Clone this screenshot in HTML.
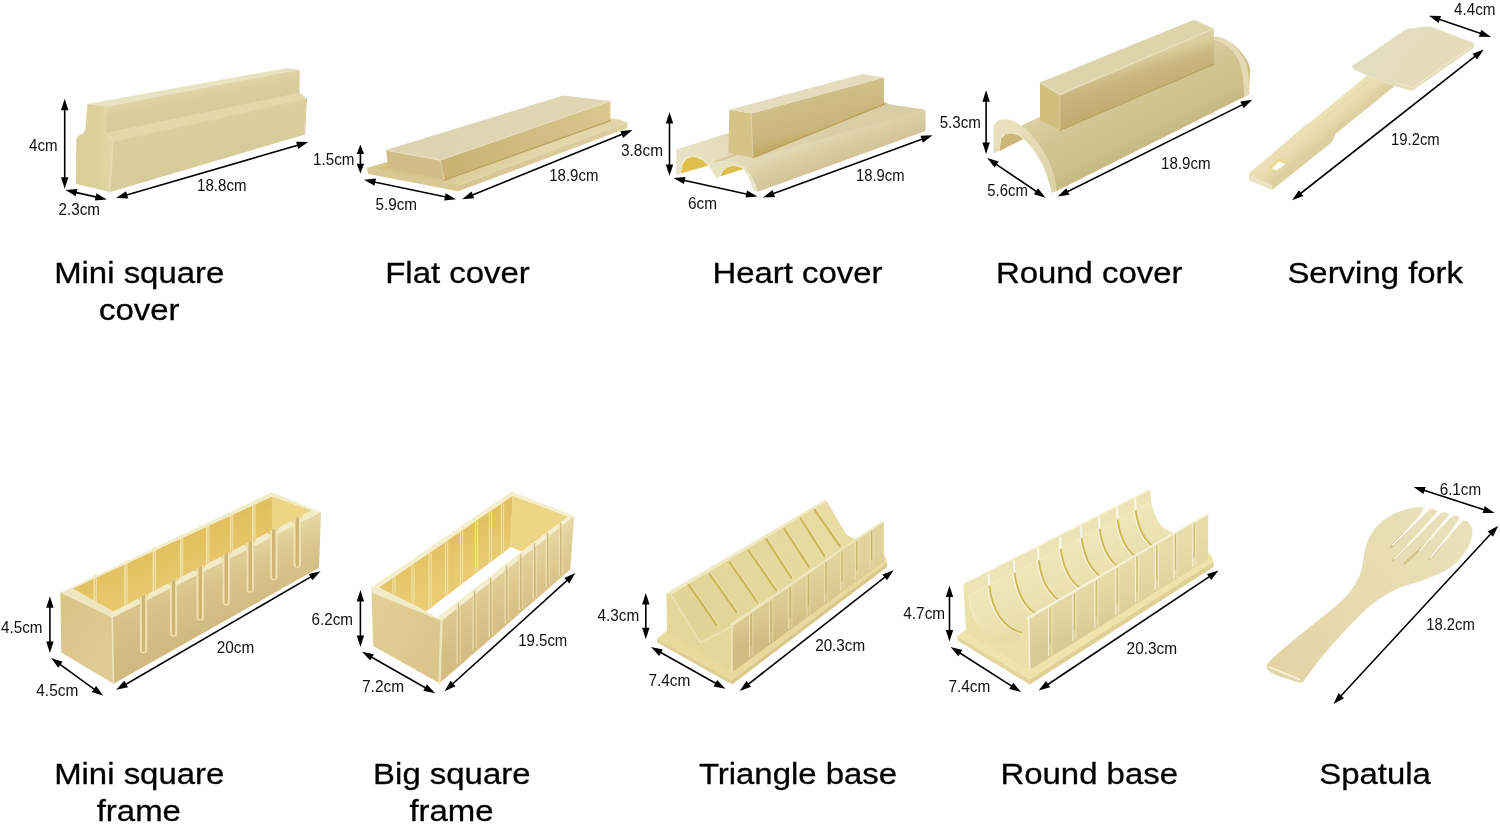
<!DOCTYPE html>
<html><head><meta charset="utf-8"><title>Sushi maker set</title>
<style>html,body{margin:0;padding:0;background:#fff}svg{display:block;will-change:transform}text{font-family:"Liberation Sans",sans-serif}</style></head>
<body>
<svg width="1500" height="824" viewBox="0 0 1500 824">
<defs>
<linearGradient id="g1" gradientUnits="userSpaceOnUse" x1="200" y1="110" x2="214" y2="175"><stop offset="0" stop-color="#e5dbae"/><stop offset="0.22" stop-color="#dbce9e"/><stop offset="1" stop-color="#d7ca99"/></linearGradient>
<linearGradient id="g2" gradientUnits="userSpaceOnUse" x1="200" y1="86" x2="205" y2="112"><stop offset="0" stop-color="#e3d8aa"/><stop offset="0.4" stop-color="#dbce9e"/><stop offset="1" stop-color="#d8cb9a"/></linearGradient>
<linearGradient id="g3" gradientUnits="userSpaceOnUse" x1="76" y1="150" x2="112" y2="150"><stop offset="0" stop-color="#d9cd98"/><stop offset="0.6" stop-color="#dcd09c"/><stop offset="1" stop-color="#e2d7a8"/></linearGradient>
<linearGradient id="g4" gradientUnits="userSpaceOnUse" x1="470" y1="150" x2="490" y2="182"><stop offset="0" stop-color="#d6c38a"/><stop offset="0.45" stop-color="#ddcd9c"/><stop offset="1" stop-color="#e3d6aa"/></linearGradient>
<linearGradient id="g5" gradientUnits="userSpaceOnUse" x1="458" y1="190" x2="627" y2="127"><stop offset="0" stop-color="#d5c592"/><stop offset="1" stop-color="#dccfa0"/></linearGradient>
<linearGradient id="g6" gradientUnits="userSpaceOnUse" x1="440" y1="170" x2="610" y2="110"><stop offset="0" stop-color="#c8b172"/><stop offset="0.5" stop-color="#d0bb80"/><stop offset="1" stop-color="#dac890"/></linearGradient>
<linearGradient id="g7" gradientUnits="userSpaceOnUse" x1="390" y1="150" x2="610" y2="100"><stop offset="0" stop-color="#ddd3b0"/><stop offset="1" stop-color="#e2d7b4"/></linearGradient>
<linearGradient id="g8" gradientUnits="userSpaceOnUse" x1="690" y1="160" x2="830" y2="120"><stop offset="0" stop-color="#e8e2c4"/><stop offset="0.5" stop-color="#e0d6b2"/><stop offset="1" stop-color="#dacea6"/></linearGradient>
<linearGradient id="g9" gradientUnits="userSpaceOnUse" x1="830" y1="135" x2="842" y2="168"><stop offset="0" stop-color="#e2d8b4"/><stop offset="0.3" stop-color="#dbcfa6"/><stop offset="1" stop-color="#cfc092"/></linearGradient>
<linearGradient id="g10" gradientUnits="userSpaceOnUse" x1="810" y1="95" x2="820" y2="135"><stop offset="0" stop-color="#d0be88"/><stop offset="0.8" stop-color="#c9b67c"/><stop offset="1" stop-color="#c2ac68"/></linearGradient>
<linearGradient id="g11" gradientUnits="userSpaceOnUse" x1="1120" y1="70" x2="1160" y2="150"><stop offset="0" stop-color="#ddd2a6"/><stop offset="0.35" stop-color="#d3c696"/><stop offset="0.75" stop-color="#ccbf8a"/><stop offset="1" stop-color="#c4b67e"/></linearGradient>
<linearGradient id="g12" gradientUnits="userSpaceOnUse" x1="1000" y1="125" x2="1056" y2="190"><stop offset="0" stop-color="#e9e1be"/><stop offset="1" stop-color="#ddd2a6"/></linearGradient>
<linearGradient id="g13" gradientUnits="userSpaceOnUse" x1="1130" y1="60" x2="1142" y2="100"><stop offset="0" stop-color="#dccfa0"/><stop offset="0.38" stop-color="#cab680"/><stop offset="1" stop-color="#c2ac70"/></linearGradient>
<linearGradient id="g14" gradientUnits="userSpaceOnUse" x1="1290" y1="140" x2="1303" y2="156"><stop offset="0" stop-color="#ebe0b6"/><stop offset="0.6" stop-color="#e7dbae"/><stop offset="1" stop-color="#ddd0a0"/></linearGradient>
<linearGradient id="g15" gradientUnits="userSpaceOnUse" x1="1380" y1="40" x2="1440" y2="85"><stop offset="0" stop-color="#e3ddc0"/><stop offset="1" stop-color="#e4dcb8"/></linearGradient>
<linearGradient id="g16" gradientUnits="userSpaceOnUse" x1="120" y1="560" x2="135" y2="600"><stop offset="0" stop-color="#e2bf5e"/><stop offset="1" stop-color="#e8c96e"/></linearGradient>
<linearGradient id="g17" gradientUnits="userSpaceOnUse" x1="60" y1="620" x2="113" y2="650"><stop offset="0" stop-color="#dac488"/><stop offset="1" stop-color="#dfcc94"/></linearGradient>
<linearGradient id="g18" gradientUnits="userSpaceOnUse" x1="200" y1="560" x2="222" y2="625"><stop offset="0" stop-color="#e4d49e"/><stop offset="0.4" stop-color="#d8c48c"/><stop offset="1" stop-color="#d0ba80"/></linearGradient>
<linearGradient id="g19" gradientUnits="userSpaceOnUse" x1="430" y1="540" x2="450" y2="580"><stop offset="0" stop-color="#e2bf60"/><stop offset="1" stop-color="#e9cb72"/></linearGradient>
<linearGradient id="g20" gradientUnits="userSpaceOnUse" x1="372" y1="610" x2="440" y2="650"><stop offset="0" stop-color="#e2ce94"/><stop offset="1" stop-color="#dbc58a"/></linearGradient>
<linearGradient id="g21" gradientUnits="userSpaceOnUse" x1="490" y1="560" x2="520" y2="625"><stop offset="0" stop-color="#e6d6a2"/><stop offset="0.5" stop-color="#dcc78e"/><stop offset="1" stop-color="#d4bd82"/></linearGradient>
<linearGradient id="g22" gradientUnits="userSpaceOnUse" x1="690" y1="620" x2="840" y2="520"><stop offset="0" stop-color="#e2d496"/><stop offset="1" stop-color="#e8dca4"/></linearGradient>
<linearGradient id="g23" gradientUnits="userSpaceOnUse" x1="800" y1="575" x2="815" y2="625"><stop offset="0" stop-color="#e2d29c"/><stop offset="0.6" stop-color="#d9c78e"/><stop offset="1" stop-color="#d0bc80"/></linearGradient>
<linearGradient id="g24" gradientUnits="userSpaceOnUse" x1="1060" y1="545" x2="1095" y2="610"><stop offset="0" stop-color="#efe6ba"/><stop offset="0.5" stop-color="#ece2b2"/><stop offset="1" stop-color="#e4d8a2"/></linearGradient>
<linearGradient id="g25" gradientUnits="userSpaceOnUse" x1="1100" y1="570" x2="1118" y2="625"><stop offset="0" stop-color="#e8dcaa"/><stop offset="0.6" stop-color="#e1d3a0"/><stop offset="1" stop-color="#d9ca94"/></linearGradient>
<linearGradient id="g26" gradientUnits="userSpaceOnUse" x1="1450" y1="520" x2="1280" y2="670"><stop offset="0" stop-color="#e9e0ba"/><stop offset="0.45" stop-color="#e7dbb0"/><stop offset="1" stop-color="#e2d4a6"/></linearGradient>
</defs>
<rect width="1500" height="824" fill="#fff"/>
<polygon points="112.8,141 306.2,98 304.2,134.8 110.1,192.1" fill="url(#g1)"/>
<polygon points="105.4,132.5 298.2,92.5 306.2,98.5 112.8,141.5" fill="#e3d8aa"/>
<polygon points="105.4,106.5 298.2,69.5 298.2,93 105.4,133" fill="url(#g2)"/>
<polygon points="87.4,104.1 286,68.2 298.2,69.5 105.4,106.8" fill="#e9e2c0"/>
<polygon points="298.2,69.5 299.5,71 299.5,93 307,98.5 305,135 304.2,134.8 306.2,98 298.2,93" fill="#cfc290"/>
<path d="M87.4,104.1 L105.4,106.5 L105.4,132.8 L112.8,141 L110.1,192.1 L76,184 L76.3,140 Q76.5,136.5 80,135 Q85,133 85.4,128 Z" fill="url(#g3)"/>
<path d="M105.4,106.5 L105.4,132.8 L112.8,141 L110.1,192.1" fill="none" stroke="#e6dcb2" stroke-width="1.2" stroke-linecap="round" stroke-linejoin="round"/>
<polygon points="367,168.1 458,185.5 627.4,122.5 619.4,119.5 560,110" fill="url(#g4)"/>
<polygon points="367,167.6 458,185 458.2,191.2 368,174.1" fill="#d8c894"/>
<polygon points="458,185.5 627.4,122.5 627.4,128.1 458.2,191.2" fill="url(#g5)"/>
<polygon points="386.1,150.1 440.1,160.1 444.1,179.8 388.1,168.1" fill="#cfbc86"/>
<polygon points="440.1,160.1 610.4,101 610.4,120.1 444.1,179.8" fill="url(#g6)"/>
<polygon points="386.1,150.1 563.3,95.6 610.4,101 440.1,160.1" fill="url(#g7)"/>
<path d="M386.1,150.1 L440.1,160.1 L610.4,101" fill="none" stroke="#e8dfbe" stroke-width="1.2" stroke-linecap="round" stroke-linejoin="round"/>
<path d="M440.1,160.1 L444.1,179.8" fill="none" stroke="#e2d6ac" stroke-width="1" stroke-linecap="round" stroke-linejoin="round"/>
<path d="M444.1,180.3 L610.4,120.6" fill="none" stroke="#b89c58" stroke-width="1.2" stroke-linecap="round" stroke-linejoin="round"/>
<polygon points="676.3,149.6 689.7,152 703.1,158.7 709.4,164.6 711,162.6 725.2,161 737,163.4 744.9,167.3 925.5,109.7 885.5,103.8 840,98" fill="url(#g8)"/>
<polygon points="709.4,164.6 716,160.5 884,101.5 889,104.2" fill="#d4c696"/>
<polygon points="737,163.4 744.9,167.3 750.4,174.4 755.2,183.9 757.5,191.8 925.5,131 925.5,109.7" fill="url(#g9)"/>
<path d="M680.3,173.4 C681,166 684,159.5 691.3,156.3 C697,155.5 704,159.5 708.8,165.6 Z" fill="#e0c04a"/>
<path d="M720.5,176.2 C721.5,170 726,165.8 733.1,165.4 C738,165.3 741.5,166.8 743.9,169.1 Z" fill="#e0c04a"/>
<polygon points="676.3,149.6 689.7,152 696,154.3 703.1,158.7 709.4,164.6 711,162.6 725.2,161 737,163.4 744.9,167.3 750.4,174.4 755.2,183.9 757.5,191.8 753.6,190.6 752,185.5 748.1,176 743.7,168.9 739.4,166.5 733.1,165.4 726.8,167.3 722,171.3 720.5,176 716.5,178 714.2,174.4 708.6,165.4 703.1,160.2 696.8,157.1 691.3,156.3 685.8,158.7 681.8,165 680.3,173.2 676.3,175.2" fill="#e8e2c4"/>
<path d="M680.3,173.2 L681.8,165 L685.8,158.7 L691.3,156.3 L696.8,157.1 L703.1,160.2 L708.6,165.4" fill="none" stroke="#f2eed8" stroke-width="0.8" stroke-linecap="round" stroke-linejoin="round"/>
<path d="M720.5,176 L722,171.3 L726.8,167.3 L733.1,165.4 L739.4,166.5 L743.7,168.9" fill="none" stroke="#f2eed8" stroke-width="0.8" stroke-linecap="round" stroke-linejoin="round"/>
<polygon points="729.4,109.8 751,113.5 753,157.5 728.4,153" fill="#d6c486"/>
<polygon points="751,113.5 883.9,77.6 883.9,103.8 753,157.5" fill="url(#g10)"/>
<polygon points="729.4,109.8 863,73.9 883.9,77.6 751,113.5" fill="#e4dcbc"/>
<path d="M751,113.5 L753,157.5" fill="none" stroke="#e0d3a4" stroke-width="1" stroke-linecap="round" stroke-linejoin="round"/>
<path d="M753,157.8 L883.9,104.1" fill="none" stroke="#b89c54" stroke-width="1.2" stroke-linecap="round" stroke-linejoin="round"/>
<path d="M1017,127.5 L1213,37 C1222,36 1232,42 1238,48.4 C1245,56 1249,62 1250.1,68.2 L1249,94.6 L1056.5,191.1 L1052,192.5 C1049,178 1044,166 1038,156 C1032,146 1025,138 1016,131 Z" fill="url(#g11)"/>
<path d="M1216,36.3 C1226,38 1236,46 1241,54 C1246,62 1249,68 1249.5,94 L1244,97 C1244,72 1240,62 1235,54 C1229,46 1221,41 1210,39 Z" fill="#e4dab4"/>
<path d="M999.4,151.3 L1001.1,138.4 L1005.8,133.8 L1012.7,133.3 L1019.6,136.1 L1023.5,139 Z" fill="#cbb878"/>
<path d="M993.6,153.4 L993.6,127 C994.5,122 998,120.3 1000,120 C1003,119.4 1005,119.3 1008.1,119.4 C1011,119.8 1014,121 1016.1,122.3 C1019,124 1022,126 1024.2,128.1 C1028,131 1031,134 1033.4,137.3 C1037,141.5 1040,145.5 1042.7,150 C1045.5,154.5 1047.8,158.5 1049.6,162.7 C1051.5,167 1053,171.5 1054.2,176.5 C1055.3,181 1056,185.5 1056.5,190.4 L1051.9,192.7 C1051.5,189.5 1050.8,186.5 1049.6,183.4 C1047.5,177 1045.5,171 1042.7,165 C1040,159.5 1037,154.5 1033.4,150 C1030.5,145.5 1027,141.5 1023.1,138.4 C1022,137.5 1021,136.8 1019.6,136.1 C1017.5,134.8 1015,133.6 1012.7,133.3 C1010,133.2 1008,133.3 1005.8,133.8 C1003.5,134.8 1002,136.2 1001.1,138.4 C1000.5,140 1000.5,141 1000.6,142 L999.4,151.1 Z" fill="url(#g12)"/>
<polygon points="1040,82.5 1059.8,94.6 1059.8,129.8 1040,120" fill="#d0be7e"/>
<polygon points="1059.8,94.6 1213.8,28.6 1213.8,63.8 1059.8,129.8" fill="url(#g13)"/>
<polygon points="1040,82.5 1194,19.8 1213.8,28.6 1059.8,94.6" fill="#ded4ac"/>
<path d="M1040,82.5 L1059.8,94.6 L1213.8,28.6" fill="none" stroke="#e8e0be" stroke-width="1.2" stroke-linecap="round" stroke-linejoin="round"/>
<path d="M1059.8,94.6 L1059.8,129.8" fill="none" stroke="#dccc98" stroke-width="1" stroke-linecap="round" stroke-linejoin="round"/>
<path d="M1059.8,130.3 L1213.8,64.3" fill="none" stroke="#b49c58" stroke-width="1.2" stroke-linecap="round" stroke-linejoin="round"/>
<path d="M1366.8,75.6 L1314.6,118.7 C1311,122 1308,123 1305.6,125 L1249.5,173 Q1248.5,174 1248.9,176 L1248.9,179.9 L1272.3,189.8 L1331,143 C1333.5,141 1334,137 1335.5,134 L1394.7,86 Z" fill="url(#g14)"/>
<path d="M1372,78 L1322,120" fill="none" stroke="#e2d8aa" stroke-width="1" stroke-linecap="round" stroke-linejoin="round"/>
<path d="M1386,85 L1340,124" fill="none" stroke="#ddd2a2" stroke-width="1" stroke-linecap="round" stroke-linejoin="round"/>
<polygon points="1248.9,175 1272.3,185 1272.3,189.8 1248.9,179.9" fill="#ece4c2"/>
<polygon points="1268.7,168.2 1278.6,158.3 1287.6,161.9 1275.9,170.9" fill="#e6d88a"/>
<polygon points="1271.5,168.5 1279,161.5 1285.5,164 1276.5,170.2" fill="#fff"/>
<path d="M1352.4,65.7 L1405,30 Q1407.3,28.8 1411,28.3 L1428,26.6 Q1431,26.6 1434,27.8 L1472,42.2 Q1474,43.2 1473.9,45 L1473.9,47.7 L1413.5,90 Q1411.8,90.9 1409.5,90.3 L1394.7,86 L1366.8,75.6 L1354,69.5 Q1351.5,67.5 1352.4,65.7 Z" fill="url(#g15)"/>
<path d="M1473.9,45 L1413,87.5 L1396,83" fill="none" stroke="#efe9d0" stroke-width="1.2" stroke-linecap="round" stroke-linejoin="round"/>
<polygon points="72.5,588.6 271.9,496.5 311.4,510.6 113.4,611.8" fill="url(#g16)"/>
<polygon points="271.9,496.5 311.4,510.6 300,532 271.9,545" fill="#ecd584"/>
<line x1="95.3" y1="576.1" x2="95.3" y2="640.1" stroke="#f0e2ac" stroke-width="3.4" stroke-linecap="round" />
<line x1="95.6" y1="579.1" x2="95.6" y2="640.1" stroke="#e6cc7a" stroke-width="1" stroke-linecap="round" />
<line x1="126" y1="561.9" x2="126" y2="625.9" stroke="#f0e2ac" stroke-width="3.4" stroke-linecap="round" />
<line x1="126.3" y1="564.9" x2="126.3" y2="625.9" stroke="#e6cc7a" stroke-width="1" stroke-linecap="round" />
<line x1="154.3" y1="548.8" x2="154.3" y2="612.8" stroke="#f0e2ac" stroke-width="3.4" stroke-linecap="round" />
<line x1="154.6" y1="551.8" x2="154.6" y2="612.8" stroke="#e6cc7a" stroke-width="1" stroke-linecap="round" />
<line x1="181.6" y1="536.2" x2="181.6" y2="600.2" stroke="#f0e2ac" stroke-width="3.4" stroke-linecap="round" />
<line x1="181.9" y1="539.2" x2="181.9" y2="600.2" stroke="#e6cc7a" stroke-width="1" stroke-linecap="round" />
<line x1="207.7" y1="524.2" x2="207.7" y2="588.2" stroke="#f0e2ac" stroke-width="3.4" stroke-linecap="round" />
<line x1="208" y1="527.2" x2="208" y2="588.2" stroke="#e6cc7a" stroke-width="1" stroke-linecap="round" />
<line x1="231.5" y1="513.2" x2="231.5" y2="577.2" stroke="#f0e2ac" stroke-width="3.4" stroke-linecap="round" />
<line x1="231.8" y1="516.2" x2="231.8" y2="577.2" stroke="#e6cc7a" stroke-width="1" stroke-linecap="round" />
<line x1="253.7" y1="502.9" x2="253.7" y2="566.9" stroke="#f0e2ac" stroke-width="3.4" stroke-linecap="round" />
<line x1="254" y1="505.9" x2="254" y2="566.9" stroke="#e6cc7a" stroke-width="1" stroke-linecap="round" />
<polygon points="60.3,592.6 271.9,492.3 271.9,496.5 72.5,588.6" fill="#f2ebc8"/>
<polygon points="271.9,492.3 321,512.3 311.4,510.6 271.9,496.5" fill="#f2ebc8"/>
<polygon points="60.3,592.6 72.5,588.6 113.4,611.8 112.2,617.6" fill="#efe6c0"/>
<polygon points="60.3,592.6 112.2,617.6 113.5,683.7 61.3,652.5" fill="url(#g17)"/>
<polygon points="112.2,617.6 321,512.3 319,567.7 113.5,683.7" fill="url(#g18)"/>
<polygon points="112.2,617.6 321,512.3 311.4,510.6 113.4,611.8" fill="#f2ebc8"/>
<polygon points="137.5,598.6 139.9,600.8 147.1,597.1 149.5,592.5" fill="#e8c96e"/>
<path d="M139.9,597.2 L139.9,650.6 Q139.9,653.3 143.5,653.3 Q147.1,653.3 147.1,650.6 L147.1,593.5 Z" fill="#efe3b4"/>
<path d="M141.8,596.2 L141.8,650.5 Q141.8,652.1 143.5,652.1 Q145.2,652.1 145.2,650.5 L145.2,594.5 Z" fill="#cdb672"/>
<polygon points="167.5,583.4 169.9,585.6 177.1,581.9 179.5,577.3" fill="#e8c96e"/>
<path d="M169.9,582 L169.9,633.9 Q169.9,636.6 173.5,636.6 Q177.1,636.6 177.1,633.9 L177.1,578.3 Z" fill="#efe3b4"/>
<path d="M171.8,581 L171.8,633.8 Q171.8,635.4 173.5,635.4 Q175.2,635.4 175.2,633.8 L175.2,579.3 Z" fill="#cdb672"/>
<polygon points="194.2,569.9 196.6,572.1 203.8,568.4 206.2,563.8" fill="#e8c96e"/>
<path d="M196.6,568.5 L196.6,617.9 Q196.6,620.6 200.2,620.6 Q203.8,620.6 203.8,617.9 L203.8,564.8 Z" fill="#efe3b4"/>
<path d="M198.5,567.5 L198.5,617.8 Q198.5,619.4 200.2,619.4 Q201.9,619.4 201.9,617.8 L201.9,565.8 Z" fill="#cdb672"/>
<polygon points="220.2,556.7 222.6,558.9 229.8,555.3 232.2,550.6" fill="#e8c96e"/>
<path d="M222.6,555.3 L222.6,602.5 Q222.6,605.2 226.2,605.2 Q229.8,605.2 229.8,602.5 L229.8,551.7 Z" fill="#efe3b4"/>
<path d="M224.5,554.3 L224.5,602.4 Q224.5,604 226.2,604 Q227.9,604 227.9,602.4 L227.9,552.6 Z" fill="#cdb672"/>
<polygon points="244.2,544.6 246.6,546.8 253.8,543.1 256.2,538.5" fill="#e8c96e"/>
<path d="M246.6,543.2 L246.6,589.9 Q246.6,592.6 250.2,592.6 Q253.8,592.6 253.8,589.9 L253.8,539.5 Z" fill="#efe3b4"/>
<path d="M248.5,542.2 L248.5,589.8 Q248.5,591.4 250.2,591.4 Q251.9,591.4 251.9,589.8 L251.9,540.5 Z" fill="#cdb672"/>
<polygon points="267.7,532.7 270.1,534.9 277.3,531.2 279.7,526.6" fill="#e8c96e"/>
<path d="M270.1,531.3 L270.1,577.4 Q270.1,580.1 273.7,580.1 Q277.3,580.1 277.3,577.4 L277.3,527.6 Z" fill="#efe3b4"/>
<path d="M272,530.3 L272,577.3 Q272,578.9 273.7,578.9 Q275.4,578.9 275.4,577.3 L275.4,528.6 Z" fill="#cdb672"/>
<polygon points="291.2,520.8 293.6,523 300.8,519.3 303.2,514.7" fill="#e8c96e"/>
<path d="M293.6,519.4 L293.6,565 Q293.6,567.7 297.2,567.7 Q300.8,567.7 300.8,565 L300.8,515.7 Z" fill="#efe3b4"/>
<path d="M295.5,518.4 L295.5,564.9 Q295.5,566.5 297.2,566.5 Q298.9,566.5 298.9,564.9 L298.9,516.7 Z" fill="#cdb672"/>
<path d="M112.2,617.6 L113.5,683.7" fill="none" stroke="#efe4ba" stroke-width="1.6" stroke-linecap="round" stroke-linejoin="round"/>
<polygon points="378.7,587.4 512.6,495.7 510.5,547 426.2,611.3" fill="url(#g19)"/>
<polygon points="512.6,495.7 568.2,516.5 521.9,551.5 510.5,547" fill="#ecd584"/>
<line x1="392.9" y1="577.9" x2="392.9" y2="595.1" stroke="#f0e0a6" stroke-width="1.1" stroke-linecap="round" />
<line x1="395.1" y1="577.9" x2="395.1" y2="595.1" stroke="#f0e0a6" stroke-width="1.1" stroke-linecap="round" />
<line x1="411.9" y1="564.9" x2="411.9" y2="604.7" stroke="#f0e0a6" stroke-width="1.1" stroke-linecap="round" />
<line x1="414.1" y1="564.9" x2="414.1" y2="604.7" stroke="#f0e0a6" stroke-width="1.1" stroke-linecap="round" />
<line x1="428.9" y1="553.3" x2="428.9" y2="608.4" stroke="#f0e0a6" stroke-width="1.1" stroke-linecap="round" />
<line x1="431.1" y1="553.3" x2="431.1" y2="608.4" stroke="#f0e0a6" stroke-width="1.1" stroke-linecap="round" />
<line x1="445.4" y1="542" x2="445.4" y2="595.8" stroke="#f0e0a6" stroke-width="1.1" stroke-linecap="round" />
<line x1="447.6" y1="542" x2="447.6" y2="595.8" stroke="#f0e0a6" stroke-width="1.1" stroke-linecap="round" />
<line x1="460.4" y1="531.7" x2="460.4" y2="584.4" stroke="#f0e0a6" stroke-width="1.1" stroke-linecap="round" />
<line x1="462.6" y1="531.7" x2="462.6" y2="584.4" stroke="#f0e0a6" stroke-width="1.1" stroke-linecap="round" />
<line x1="475.4" y1="521.4" x2="475.4" y2="572.9" stroke="#f0e0a6" stroke-width="1.1" stroke-linecap="round" />
<line x1="477.6" y1="521.4" x2="477.6" y2="572.9" stroke="#f0e0a6" stroke-width="1.1" stroke-linecap="round" />
<line x1="489.4" y1="511.8" x2="489.4" y2="562.3" stroke="#f0e0a6" stroke-width="1.1" stroke-linecap="round" />
<line x1="491.6" y1="511.8" x2="491.6" y2="562.3" stroke="#f0e0a6" stroke-width="1.1" stroke-linecap="round" />
<line x1="501.4" y1="503.6" x2="501.4" y2="553.1" stroke="#f0e0a6" stroke-width="1.1" stroke-linecap="round" />
<line x1="503.6" y1="503.6" x2="503.6" y2="553.1" stroke="#f0e0a6" stroke-width="1.1" stroke-linecap="round" />
<polygon points="370.7,587.8 511.6,491.6 512.6,495.7 378.7,587.4" fill="#f4eecd"/>
<polygon points="511.6,491.6 574.1,516 568.2,516.5 512.6,495.7" fill="#f4eecd"/>
<polygon points="370.7,587.8 378.7,587.4 426.2,611.3 436.9,617.7 441.5,620.8 371.5,592.6" fill="#f2ebc8"/>
<polygon points="371.5,592.6 441.5,620.8 439.5,683.2 373.1,646.1" fill="url(#g20)"/>
<polygon points="441.5,620.8 574.1,516 570.3,569.6 439.5,683.2" fill="url(#g21)"/>
<polygon points="441.5,620.8 574.1,516 568.2,516.5 521.9,551.5 436.9,617.7" fill="#f4eecd"/>
<line x1="457.2" y1="604.6" x2="457.2" y2="664" stroke="#eee2b6" stroke-width="1.2" stroke-linecap="round" />
<line x1="458.6" y1="603.6" x2="458.6" y2="663" stroke="#c9b476" stroke-width="1.1" stroke-linecap="round" />
<line x1="460.6" y1="604.6" x2="460.6" y2="662" stroke="#ebdfb2" stroke-width="0.8" stroke-linecap="round" />
<line x1="473.2" y1="592" x2="473.2" y2="650.1" stroke="#eee2b6" stroke-width="1.2" stroke-linecap="round" />
<line x1="474.6" y1="591" x2="474.6" y2="649.1" stroke="#c9b476" stroke-width="1.1" stroke-linecap="round" />
<line x1="476.6" y1="592" x2="476.6" y2="648.1" stroke="#ebdfb2" stroke-width="0.8" stroke-linecap="round" />
<line x1="489.2" y1="579.3" x2="489.2" y2="636.2" stroke="#eee2b6" stroke-width="1.2" stroke-linecap="round" />
<line x1="490.6" y1="578.3" x2="490.6" y2="635.2" stroke="#c9b476" stroke-width="1.1" stroke-linecap="round" />
<line x1="492.6" y1="579.3" x2="492.6" y2="634.2" stroke="#ebdfb2" stroke-width="0.8" stroke-linecap="round" />
<line x1="505.2" y1="566.7" x2="505.2" y2="622.3" stroke="#eee2b6" stroke-width="1.2" stroke-linecap="round" />
<line x1="506.6" y1="565.7" x2="506.6" y2="621.3" stroke="#c9b476" stroke-width="1.1" stroke-linecap="round" />
<line x1="508.6" y1="566.7" x2="508.6" y2="620.3" stroke="#ebdfb2" stroke-width="0.8" stroke-linecap="round" />
<line x1="519.3" y1="555.5" x2="519.3" y2="610" stroke="#eee2b6" stroke-width="1.2" stroke-linecap="round" />
<line x1="520.7" y1="554.5" x2="520.7" y2="609" stroke="#c9b476" stroke-width="1.1" stroke-linecap="round" />
<line x1="522.7" y1="555.5" x2="522.7" y2="608" stroke="#ebdfb2" stroke-width="0.8" stroke-linecap="round" />
<line x1="533.3" y1="544.5" x2="533.3" y2="597.9" stroke="#eee2b6" stroke-width="1.2" stroke-linecap="round" />
<line x1="534.7" y1="543.5" x2="534.7" y2="596.9" stroke="#c9b476" stroke-width="1.1" stroke-linecap="round" />
<line x1="536.7" y1="544.5" x2="536.7" y2="595.9" stroke="#ebdfb2" stroke-width="0.8" stroke-linecap="round" />
<line x1="546.3" y1="534.2" x2="546.3" y2="586.6" stroke="#eee2b6" stroke-width="1.2" stroke-linecap="round" />
<line x1="547.7" y1="533.2" x2="547.7" y2="585.6" stroke="#c9b476" stroke-width="1.1" stroke-linecap="round" />
<line x1="549.7" y1="534.2" x2="549.7" y2="584.6" stroke="#ebdfb2" stroke-width="0.8" stroke-linecap="round" />
<line x1="559.3" y1="523.9" x2="559.3" y2="575.3" stroke="#eee2b6" stroke-width="1.2" stroke-linecap="round" />
<line x1="560.7" y1="522.9" x2="560.7" y2="574.3" stroke="#c9b476" stroke-width="1.1" stroke-linecap="round" />
<line x1="562.7" y1="523.9" x2="562.7" y2="573.3" stroke="#ebdfb2" stroke-width="0.8" stroke-linecap="round" />
<path d="M441.5,620.8 L439.5,683.2" fill="none" stroke="#efe4ba" stroke-width="2.5" stroke-linecap="round" stroke-linejoin="round"/>
<polygon points="656.9,638.4 732,680 887.1,562.5 885,556 820,520 668,630" fill="#e9da9c"/>
<polygon points="656.9,638.4 732,680 732,684.6 657.3,642.4" fill="#dfcf92"/>
<polygon points="732,680 887.1,562.5 887.1,567 732,684.6" fill="#d9c88a"/>
<polygon points="670.8,594.4 826.6,500.9 850.5,541.5 732.1,626.2 700.2,642.6" fill="url(#g22)"/>
<line x1="689.8" y1="583.7" x2="718.4" y2="625.5" stroke="#f0e6ba" stroke-width="1.6" stroke-linecap="round" />
<line x1="688" y1="583.4" x2="716.6" y2="625.2" stroke="#ccb758" stroke-width="2.2" stroke-linecap="round" />
<line x1="711.8" y1="574.9" x2="738.2" y2="612.3" stroke="#f0e6ba" stroke-width="1.6" stroke-linecap="round" />
<line x1="710" y1="574.6" x2="736.4" y2="612" stroke="#ccb758" stroke-width="2.2" stroke-linecap="round" />
<line x1="731.6" y1="562.8" x2="759.1" y2="602.4" stroke="#f0e6ba" stroke-width="1.6" stroke-linecap="round" />
<line x1="729.8" y1="562.5" x2="757.3" y2="602.1" stroke="#ccb758" stroke-width="2.2" stroke-linecap="round" />
<line x1="750.3" y1="550.7" x2="777.8" y2="590.3" stroke="#f0e6ba" stroke-width="1.6" stroke-linecap="round" />
<line x1="748.5" y1="550.4" x2="776" y2="590" stroke="#ccb758" stroke-width="2.2" stroke-linecap="round" />
<line x1="768.4" y1="539.7" x2="793.2" y2="578.2" stroke="#f0e6ba" stroke-width="1.6" stroke-linecap="round" />
<line x1="766.6" y1="539.4" x2="791.4" y2="577.9" stroke="#ccb758" stroke-width="2.2" stroke-linecap="round" />
<line x1="786.2" y1="529.1" x2="810.8" y2="567.2" stroke="#f0e6ba" stroke-width="1.6" stroke-linecap="round" />
<line x1="784.4" y1="528.8" x2="809" y2="566.9" stroke="#ccb758" stroke-width="2.2" stroke-linecap="round" />
<line x1="802.5" y1="518.8" x2="826.2" y2="556.2" stroke="#f0e6ba" stroke-width="1.6" stroke-linecap="round" />
<line x1="800.7" y1="518.5" x2="824.4" y2="555.9" stroke="#ccb758" stroke-width="2.2" stroke-linecap="round" />
<line x1="816.3" y1="510" x2="841.6" y2="546.3" stroke="#f0e6ba" stroke-width="1.6" stroke-linecap="round" />
<line x1="814.5" y1="509.7" x2="839.8" y2="546" stroke="#ccb758" stroke-width="2.2" stroke-linecap="round" />
<polygon points="666.6,593 825.5,499.4 826.6,500.9 670.8,594.4" fill="#f0e8c0"/>
<polygon points="666.6,593 670.8,594.4 700.2,642.6 732.1,626.2 732.1,672.3 667.1,633" fill="#e5d69a"/>
<path d="M670.8,594.4 L700.2,642.6 L732.1,626.2" fill="none" stroke="#f0e6bc" stroke-width="1.3" stroke-linecap="round" stroke-linejoin="round"/>
<polygon points="732.1,626.2 883.8,521.8 883.8,561.4 732.1,672.3" fill="url(#g23)"/>
<polygon points="732.1,626.2 883.8,521.8 881,521.5 729.8,624.3" fill="#f0e8c0"/>
<line x1="749.7" y1="612.4" x2="749.7" y2="656.7" stroke="#ece0b0" stroke-width="1.2" stroke-linecap="round" />
<line x1="751.2" y1="614.4" x2="751.2" y2="646" stroke="#c4ae60" stroke-width="1.1" stroke-linecap="round" />
<line x1="752.9" y1="613.4" x2="752.9" y2="655.7" stroke="#e8dcac" stroke-width="0.8" stroke-linecap="round" />
<line x1="769.5" y1="598.8" x2="769.5" y2="642.2" stroke="#ece0b0" stroke-width="1.2" stroke-linecap="round" />
<line x1="771" y1="600.8" x2="771" y2="631.8" stroke="#c4ae60" stroke-width="1.1" stroke-linecap="round" />
<line x1="772.7" y1="599.8" x2="772.7" y2="641.2" stroke="#e8dcac" stroke-width="0.8" stroke-linecap="round" />
<line x1="788.7" y1="585.6" x2="788.7" y2="628.2" stroke="#ece0b0" stroke-width="1.2" stroke-linecap="round" />
<line x1="790.2" y1="587.6" x2="790.2" y2="618" stroke="#c4ae60" stroke-width="1.1" stroke-linecap="round" />
<line x1="791.9" y1="586.6" x2="791.9" y2="627.2" stroke="#e8dcac" stroke-width="0.8" stroke-linecap="round" />
<line x1="806.9" y1="573" x2="806.9" y2="614.9" stroke="#ece0b0" stroke-width="1.2" stroke-linecap="round" />
<line x1="808.4" y1="575" x2="808.4" y2="604.9" stroke="#c4ae60" stroke-width="1.1" stroke-linecap="round" />
<line x1="810.1" y1="574" x2="810.1" y2="613.9" stroke="#e8dcac" stroke-width="0.8" stroke-linecap="round" />
<line x1="824.5" y1="560.9" x2="824.5" y2="602" stroke="#ece0b0" stroke-width="1.2" stroke-linecap="round" />
<line x1="826" y1="562.9" x2="826" y2="592.2" stroke="#c4ae60" stroke-width="1.1" stroke-linecap="round" />
<line x1="827.7" y1="561.9" x2="827.7" y2="601" stroke="#e8dcac" stroke-width="0.8" stroke-linecap="round" />
<line x1="840.6" y1="549.8" x2="840.6" y2="590.3" stroke="#ece0b0" stroke-width="1.2" stroke-linecap="round" />
<line x1="842.1" y1="551.8" x2="842.1" y2="580.7" stroke="#c4ae60" stroke-width="1.1" stroke-linecap="round" />
<line x1="843.8" y1="550.8" x2="843.8" y2="589.3" stroke="#e8dcac" stroke-width="0.8" stroke-linecap="round" />
<line x1="855.3" y1="539.7" x2="855.3" y2="579.5" stroke="#ece0b0" stroke-width="1.2" stroke-linecap="round" />
<line x1="856.8" y1="541.7" x2="856.8" y2="570.1" stroke="#c4ae60" stroke-width="1.1" stroke-linecap="round" />
<line x1="858.5" y1="540.7" x2="858.5" y2="578.5" stroke="#e8dcac" stroke-width="0.8" stroke-linecap="round" />
<line x1="870.1" y1="529.5" x2="870.1" y2="568.7" stroke="#ece0b0" stroke-width="1.2" stroke-linecap="round" />
<line x1="871.6" y1="531.5" x2="871.6" y2="559.4" stroke="#c4ae60" stroke-width="1.1" stroke-linecap="round" />
<line x1="873.3" y1="530.5" x2="873.3" y2="567.7" stroke="#e8dcac" stroke-width="0.8" stroke-linecap="round" />
<path d="M732.1,626.2 L732.1,672.3" fill="none" stroke="#efe4b8" stroke-width="1.6" stroke-linecap="round" stroke-linejoin="round"/>
<polygon points="957.2,636 1029.8,679.2 1213.5,561.4 1211,555 1150,520 968,628" fill="#f0e4ac"/>
<polygon points="957.2,636 1029.8,679.2 1029.8,684.6 957.5,640.4" fill="#e4d69c"/>
<polygon points="1029.8,679.2 1213.5,561.4 1213.5,566.9 1029.8,684.6" fill="#dfd094"/>
<path d="M968.2,595.6 L1151,501.4 C1154,515 1160,527 1168,534 L1175,536 L1028.7,619 L1024.8,619.1 C1023,638 1016,646 1005.6,644.8 C985,642 972,620 968.2,595.6 Z" fill="url(#g24)"/>
<path d="M987.5,585.1 C990.5,609.8 1001.3,630.5 1024.4,633.7" fill="none" stroke="#f9f5e0" stroke-width="1.4" stroke-linecap="round" stroke-linejoin="round"/>
<path d="M989.1,584.8 C992.1,609.5 1002.9,630.2 1026,633.4" fill="none" stroke="#ccb850" stroke-width="1.8" stroke-linecap="round" stroke-linejoin="round"/>
<path d="M1012.8,572.1 C1015.7,596.3 1026.4,616.7 1049.1,619.8" fill="none" stroke="#f9f5e0" stroke-width="1.4" stroke-linecap="round" stroke-linejoin="round"/>
<path d="M1014.4,571.8 C1017.3,596 1028,616.4 1050.7,619.5" fill="none" stroke="#ccb850" stroke-width="1.8" stroke-linecap="round" stroke-linejoin="round"/>
<path d="M1037,559.6 C1039.9,583.5 1050.4,603.5 1072.7,606.5" fill="none" stroke="#f9f5e0" stroke-width="1.4" stroke-linecap="round" stroke-linejoin="round"/>
<path d="M1038.6,559.3 C1041.5,583.2 1052,603.2 1074.3,606.2" fill="none" stroke="#ccb850" stroke-width="1.8" stroke-linecap="round" stroke-linejoin="round"/>
<path d="M1059,548.3 C1061.8,571.8 1072.2,591.5 1094.1,594.5" fill="none" stroke="#f9f5e0" stroke-width="1.4" stroke-linecap="round" stroke-linejoin="round"/>
<path d="M1060.6,548 C1063.4,571.5 1073.8,591.2 1095.7,594.2" fill="none" stroke="#ccb850" stroke-width="1.8" stroke-linecap="round" stroke-linejoin="round"/>
<path d="M1079.9,537.5 C1082.7,560.7 1092.9,580.1 1114.5,583.1" fill="none" stroke="#f9f5e0" stroke-width="1.4" stroke-linecap="round" stroke-linejoin="round"/>
<path d="M1081.5,537.2 C1084.3,560.4 1094.5,579.8 1116.1,582.8" fill="none" stroke="#ccb850" stroke-width="1.8" stroke-linecap="round" stroke-linejoin="round"/>
<path d="M1097.9,528.2 C1100.6,551.1 1110.7,570.3 1132.1,573.2" fill="none" stroke="#f9f5e0" stroke-width="1.4" stroke-linecap="round" stroke-linejoin="round"/>
<path d="M1099.5,527.9 C1102.2,550.8 1112.3,570 1133.7,572.9" fill="none" stroke="#ccb850" stroke-width="1.8" stroke-linecap="round" stroke-linejoin="round"/>
<path d="M1115.9,519 C1118.6,541.5 1128.5,560.5 1149.6,563.3" fill="none" stroke="#f9f5e0" stroke-width="1.4" stroke-linecap="round" stroke-linejoin="round"/>
<path d="M1117.5,518.7 C1120.2,541.2 1130.1,560.2 1151.2,563" fill="none" stroke="#ccb850" stroke-width="1.8" stroke-linecap="round" stroke-linejoin="round"/>
<path d="M1133.9,509.7 C1136.6,531.9 1146.4,550.6 1167.2,553.5" fill="none" stroke="#f9f5e0" stroke-width="1.4" stroke-linecap="round" stroke-linejoin="round"/>
<path d="M1135.5,509.4 C1138.2,531.6 1148,550.3 1168.8,553.2" fill="none" stroke="#ccb850" stroke-width="1.8" stroke-linecap="round" stroke-linejoin="round"/>
<polygon points="963.4,583.9 1148.4,490.1 1150.5,490.7 1151,501.4 968.2,595.6" fill="#ede3b4"/>
<path d="M963.4,583.9 L1148.4,490.1" fill="none" stroke="#f8f4de" stroke-width="1.2" stroke-linecap="round" stroke-linejoin="round"/>
<line x1="989.1" y1="584.8" x2="988.6" y2="574.3" stroke="#faf7ea" stroke-width="2.2" stroke-linecap="round" />
<line x1="1014.4" y1="571.8" x2="1013.9" y2="561.3" stroke="#faf7ea" stroke-width="2.2" stroke-linecap="round" />
<line x1="1038.6" y1="559.3" x2="1038.1" y2="548.8" stroke="#faf7ea" stroke-width="2.2" stroke-linecap="round" />
<line x1="1060.6" y1="548" x2="1060.1" y2="537.5" stroke="#faf7ea" stroke-width="2.2" stroke-linecap="round" />
<line x1="1081.5" y1="537.2" x2="1081" y2="526.7" stroke="#faf7ea" stroke-width="2.2" stroke-linecap="round" />
<line x1="1099.5" y1="527.9" x2="1099" y2="517.4" stroke="#faf7ea" stroke-width="2.2" stroke-linecap="round" />
<line x1="1117.5" y1="518.7" x2="1117" y2="508.2" stroke="#faf7ea" stroke-width="2.2" stroke-linecap="round" />
<line x1="1135.5" y1="509.4" x2="1135" y2="498.9" stroke="#faf7ea" stroke-width="2.2" stroke-linecap="round" />
<path d="M963.4,583.9 L968.2,595.6 C971,620 985,642 1005.6,644.8 C1016,646 1023,638 1024.8,619.1 L1028.7,619 L1029.8,670.1 L966,633 Z" fill="#ebe0aa"/>
<polygon points="1028.7,619 1208.2,514.2 1208.2,559.5 1029.8,670.1" fill="url(#g25)"/>
<polygon points="1028.7,619 1208.2,514.2 1205.5,514 1025.5,618" fill="#f8f4dc"/>
<line x1="1048.6" y1="605.8" x2="1048.6" y2="655.2" stroke="#f7f2d6" stroke-width="1.2" stroke-linecap="round" />
<line x1="1050.1" y1="607.8" x2="1050.1" y2="644.6" stroke="#c9b868" stroke-width="1.1" stroke-linecap="round" />
<line x1="1051.8" y1="606.8" x2="1051.8" y2="654.2" stroke="#f3ecc8" stroke-width="0.8" stroke-linecap="round" />
<line x1="1072.8" y1="591.7" x2="1072.8" y2="640.3" stroke="#f7f2d6" stroke-width="1.2" stroke-linecap="round" />
<line x1="1074.3" y1="593.7" x2="1074.3" y2="629.9" stroke="#c9b868" stroke-width="1.1" stroke-linecap="round" />
<line x1="1076" y1="592.7" x2="1076" y2="639.3" stroke="#f3ecc8" stroke-width="0.8" stroke-linecap="round" />
<line x1="1094.8" y1="578.8" x2="1094.8" y2="626.8" stroke="#f7f2d6" stroke-width="1.2" stroke-linecap="round" />
<line x1="1096.3" y1="580.8" x2="1096.3" y2="616.5" stroke="#c9b868" stroke-width="1.1" stroke-linecap="round" />
<line x1="1098" y1="579.8" x2="1098" y2="625.8" stroke="#f3ecc8" stroke-width="0.8" stroke-linecap="round" />
<line x1="1115.7" y1="566.6" x2="1115.7" y2="613.9" stroke="#f7f2d6" stroke-width="1.2" stroke-linecap="round" />
<line x1="1117.2" y1="568.6" x2="1117.2" y2="603.8" stroke="#c9b868" stroke-width="1.1" stroke-linecap="round" />
<line x1="1118.9" y1="567.6" x2="1118.9" y2="612.9" stroke="#f3ecc8" stroke-width="0.8" stroke-linecap="round" />
<line x1="1135.5" y1="555.1" x2="1135.5" y2="601.7" stroke="#f7f2d6" stroke-width="1.2" stroke-linecap="round" />
<line x1="1137" y1="557.1" x2="1137" y2="591.8" stroke="#c9b868" stroke-width="1.1" stroke-linecap="round" />
<line x1="1138.7" y1="556.1" x2="1138.7" y2="600.7" stroke="#f3ecc8" stroke-width="0.8" stroke-linecap="round" />
<line x1="1155.3" y1="543.5" x2="1155.3" y2="589.5" stroke="#f7f2d6" stroke-width="1.2" stroke-linecap="round" />
<line x1="1156.8" y1="545.5" x2="1156.8" y2="579.7" stroke="#c9b868" stroke-width="1.1" stroke-linecap="round" />
<line x1="1158.5" y1="544.5" x2="1158.5" y2="588.5" stroke="#f3ecc8" stroke-width="0.8" stroke-linecap="round" />
<line x1="1174" y1="532.6" x2="1174" y2="578" stroke="#f7f2d6" stroke-width="1.2" stroke-linecap="round" />
<line x1="1175.5" y1="534.6" x2="1175.5" y2="568.4" stroke="#c9b868" stroke-width="1.1" stroke-linecap="round" />
<line x1="1177.2" y1="533.6" x2="1177.2" y2="577" stroke="#f3ecc8" stroke-width="0.8" stroke-linecap="round" />
<line x1="1192.7" y1="521.7" x2="1192.7" y2="566.4" stroke="#f7f2d6" stroke-width="1.2" stroke-linecap="round" />
<line x1="1194.2" y1="523.7" x2="1194.2" y2="557" stroke="#c9b868" stroke-width="1.1" stroke-linecap="round" />
<line x1="1195.9" y1="522.7" x2="1195.9" y2="565.4" stroke="#f3ecc8" stroke-width="0.8" stroke-linecap="round" />
<path d="M1028.7,619 L1029.8,670.1" fill="none" stroke="#f8f3da" stroke-width="1.6" stroke-linecap="round" stroke-linejoin="round"/>
<path d="M1424.1,507.5 C1418,506.8 1414,507.4 1410.1,508.4 C1405,509.5 1400.5,511 1396.7,512.4 C1391.5,514.8 1387.5,517.3 1383.4,520.4 C1379.5,523.5 1376.5,526.5 1374,529.7 C1371,533.5 1369,537.5 1367.4,541.7 C1365.7,546 1364.7,550.5 1364,555.1 C1363.3,559.5 1362.8,563 1362,567.1 C1361.2,571.5 1360,575 1358,579.1 C1355.5,584 1352.5,588.5 1348.5,593.4 C1344.5,598 1340,602.5 1335.1,606.7 L1315.1,622.7 L1295.1,638.7 L1277.7,653.4 C1274,656.5 1271,659.8 1268.4,662.8 C1266.8,664.8 1266.5,666.5 1267,668.1 C1268,671 1271.5,673 1275,674.8 L1299.1,682.8 C1301.5,683.2 1303,682 1304.4,680.1 L1319.1,660.1 L1335.1,641.4 L1351.1,624.1 L1365.8,609.4 C1370,605.7 1374,602.6 1377.8,600 C1383.5,596.2 1389,592.8 1395,589.8 C1401.5,587 1408,585 1414.1,583.1 C1420.5,581 1426.8,579 1432.8,576.4 C1438.5,574 1444,571.5 1448.8,568.4 C1453.5,565.2 1457.5,561.8 1460.8,557.7 C1464,554 1466.8,550 1468.8,545.7 C1470.8,541.5 1472,537.5 1472.2,533.7 C1472.4,530.5 1472,528 1470.8,525.7 C1469.8,523.5 1468,521.8 1466.2,521 L1463.5,520.6 L1459.7,518 L1456.8,515.7 L1453.5,515.7 L1449.5,514.4 L1445.5,512.4 L1442.1,512.4 L1438.1,511 L1432.8,509 L1430.5,509.2 Z" fill="url(#g26)"/>
<line x1="1403" y1="534" x2="1391.2" y2="546.8" stroke="#d2c288" stroke-width="2.2" stroke-linecap="round" />
<line x1="1407" y1="546" x2="1392.9" y2="560.8" stroke="#d2c288" stroke-width="2.2" stroke-linecap="round" />
<line x1="1429" y1="541" x2="1404.4" y2="563.6" stroke="#d2c288" stroke-width="2.2" stroke-linecap="round" />
<line x1="1440" y1="547" x2="1428.9" y2="559.4" stroke="#d2c288" stroke-width="2.2" stroke-linecap="round" />
<polygon points="1424.3,507.3 1430.5,508.8 1418.5,520.5 1392.5,545.8 1391.8,545 1416.5,519.5" fill="#fffef6"/>
<polygon points="1438.1,510.6 1442.1,512 1424,529.5 1394.5,559.8 1393.7,559 1422.5,528.5" fill="#fffef6"/>
<polygon points="1449.5,514 1453.5,515.3 1440,528.5 1419.9,551.5 1419,550.7 1438.5,527.5" fill="#fffef6"/>
<polygon points="1459.7,517.6 1463.5,520.2 1451,534 1430.6,558.4 1429.7,557.6 1449.5,533" fill="#fffef6"/>
<path d="M1269,667 L1299.5,679.5" fill="none" stroke="#f8f4de" stroke-width="1.6" stroke-linecap="round" stroke-linejoin="round"/>
<g opacity="0.999">
<line x1="64.7" y1="107.9" x2="64.7" y2="179.6" stroke="#000" stroke-width="1.6"/>
<polygon points="64.7,98.7 61,110.2 68.4,110.2" fill="#000"/>
<polygon points="64.7,188.8 61,177.3 68.4,177.3" fill="#000"/>
<line x1="74.4" y1="192.1" x2="97.8" y2="197.4" stroke="#000" stroke-width="1.6"/>
<polygon points="65.4,190.1 75.8,196.2 77.4,189" fill="#000"/>
<polygon points="106.8,199.4 94.8,200.5 96.4,193.3" fill="#000"/>
<line x1="124.9" y1="195.5" x2="299.4" y2="144.7" stroke="#000" stroke-width="1.6"/>
<polygon points="116.1,198.1 128.2,198.4 126.1,191.3" fill="#000"/>
<polygon points="308.2,142.1 298.2,148.9 296.1,141.8" fill="#000"/>
<text x="29" y="151.4" font-size="17" textLength="28.5" lengthAdjust="spacingAndGlyphs" fill="#111">4cm</text>
<text x="58.5" y="214.9" font-size="17" textLength="41.5" lengthAdjust="spacingAndGlyphs" fill="#111">2.3cm</text>
<text x="197" y="190.5" font-size="17" textLength="49.5" lengthAdjust="spacingAndGlyphs" fill="#111">18.8cm</text>
<line x1="360.4" y1="152.2" x2="360.4" y2="165.7" stroke="#000" stroke-width="1.6"/>
<polygon points="360.4,144.4 356.7,154.1 364.1,154.1" fill="#000"/>
<polygon points="360.4,173.5 356.7,163.8 364.1,163.8" fill="#000"/>
<line x1="373" y1="181.7" x2="447.2" y2="197.3" stroke="#000" stroke-width="1.6"/>
<polygon points="364,179.8 374.5,185.8 376,178.5" fill="#000"/>
<polygon points="456.2,199.2 444.2,200.5 445.7,193.2" fill="#000"/>
<line x1="470.7" y1="195.7" x2="623.9" y2="133.6" stroke="#000" stroke-width="1.6"/>
<polygon points="462.2,199.2 474.2,198.3 471.5,191.4" fill="#000"/>
<polygon points="632.4,130.1 623.1,137.9 620.4,131" fill="#000"/>
<text x="313" y="165.1" font-size="17" textLength="41.5" lengthAdjust="spacingAndGlyphs" fill="#111">1.5cm</text>
<text x="375.5" y="209.5" font-size="17" textLength="41.5" lengthAdjust="spacingAndGlyphs" fill="#111">5.9cm</text>
<text x="549.3" y="181.4" font-size="17" textLength="49.1" lengthAdjust="spacingAndGlyphs" fill="#111">18.9cm</text>
<line x1="669.5" y1="121.2" x2="669.5" y2="166.8" stroke="#000" stroke-width="1.6"/>
<polygon points="669.5,112 665.8,123.5 673.2,123.5" fill="#000"/>
<polygon points="669.5,176 665.8,164.5 673.2,164.5" fill="#000"/>
<line x1="682.5" y1="180" x2="748.5" y2="194.5" stroke="#000" stroke-width="1.6"/>
<polygon points="673.5,178 683.9,184.1 685.5,176.9" fill="#000"/>
<polygon points="757.5,196.5 745.5,197.6 747.1,190.4" fill="#000"/>
<line x1="771.6" y1="194.3" x2="923.9" y2="138.5" stroke="#000" stroke-width="1.6"/>
<polygon points="763,197.5 775.1,197 772.5,190.1" fill="#000"/>
<polygon points="932.5,135.3 923,142.7 920.4,135.8" fill="#000"/>
<text x="621" y="155.8" font-size="17" textLength="42" lengthAdjust="spacingAndGlyphs" fill="#111">3.8cm</text>
<text x="688" y="209.3" font-size="17" textLength="29" lengthAdjust="spacingAndGlyphs" fill="#111">6cm</text>
<text x="856" y="181.3" font-size="17" textLength="48.5" lengthAdjust="spacingAndGlyphs" fill="#111">18.9cm</text>
<line x1="986.1" y1="99.4" x2="986.1" y2="144.8" stroke="#000" stroke-width="1.6"/>
<polygon points="986.1,90.2 982.4,101.7 989.8,101.7" fill="#000"/>
<polygon points="986.1,154 982.4,142.5 989.8,142.5" fill="#000"/>
<line x1="994.8" y1="163.3" x2="1037.9" y2="192.5" stroke="#000" stroke-width="1.6"/>
<polygon points="987.2,158.1 994.6,167.6 998.8,161.5" fill="#000"/>
<polygon points="1045.5,197.7 1033.9,194.3 1038.1,188.2" fill="#000"/>
<line x1="1065.8" y1="192.5" x2="1244.1" y2="103.9" stroke="#000" stroke-width="1.6"/>
<polygon points="1057.6,196.6 1069.5,194.8 1066.3,188.2" fill="#000"/>
<polygon points="1252.3,99.8 1243.6,108.2 1240.4,101.6" fill="#000"/>
<text x="939.7" y="128.1" font-size="17" textLength="41.3" lengthAdjust="spacingAndGlyphs" fill="#111">5.3cm</text>
<text x="987.2" y="196.3" font-size="17" textLength="40.7" lengthAdjust="spacingAndGlyphs" fill="#111">5.6cm</text>
<text x="1161" y="168.8" font-size="17" textLength="49.5" lengthAdjust="spacingAndGlyphs" fill="#111">18.9cm</text>
<line x1="1437.6" y1="18.8" x2="1482.3" y2="33.9" stroke="#000" stroke-width="1.6"/>
<polygon points="1428.9,15.8 1438.6,23 1441,16" fill="#000"/>
<polygon points="1491,36.9 1478.9,36.7 1481.3,29.7" fill="#000"/>
<line x1="1476.6" y1="55.2" x2="1299.3" y2="194.5" stroke="#000" stroke-width="1.6"/>
<polygon points="1483.8,49.5 1472.5,53.7 1477,59.5" fill="#000"/>
<polygon points="1292.1,200.2 1298.9,190.2 1303.4,196" fill="#000"/>
<text x="1454.1" y="15.3" font-size="17" textLength="41.4" lengthAdjust="spacingAndGlyphs" fill="#111">4.4cm</text>
<text x="1391.1" y="144.9" font-size="17" textLength="48.6" lengthAdjust="spacingAndGlyphs" fill="#111">19.2cm</text>
<line x1="49.9" y1="605.5" x2="49.9" y2="643.9" stroke="#000" stroke-width="1.6"/>
<polygon points="49.9,596.3 46.2,607.8 53.6,607.8" fill="#000"/>
<polygon points="49.9,653.1 46.2,641.6 53.6,641.6" fill="#000"/>
<line x1="58.6" y1="663.4" x2="95.8" y2="690.3" stroke="#000" stroke-width="1.6"/>
<polygon points="51.1,658 58.3,667.7 62.6,661.7" fill="#000"/>
<polygon points="103.3,695.7 91.8,692 96.1,686" fill="#000"/>
<line x1="124.2" y1="685.2" x2="312.5" y2="575.9" stroke="#000" stroke-width="1.6"/>
<polygon points="116.2,689.8 128,687.2 124.3,680.8" fill="#000"/>
<polygon points="320.5,571.3 312.4,580.3 308.7,573.9" fill="#000"/>
<text x="1" y="632.6" font-size="17" textLength="41.4" lengthAdjust="spacingAndGlyphs" fill="#111">4.5cm</text>
<text x="36.3" y="696.1" font-size="17" textLength="42" lengthAdjust="spacingAndGlyphs" fill="#111">4.5cm</text>
<text x="216.7" y="652.6" font-size="17" textLength="37.5" lengthAdjust="spacingAndGlyphs" fill="#111">20cm</text>
<line x1="360.4" y1="599.2" x2="360.4" y2="637.9" stroke="#000" stroke-width="1.6"/>
<polygon points="360.4,590 356.7,601.5 364.1,601.5" fill="#000"/>
<polygon points="360.4,647.1 356.7,635.6 364.1,635.6" fill="#000"/>
<line x1="370" y1="656.2" x2="427.1" y2="688.7" stroke="#000" stroke-width="1.6"/>
<polygon points="362,651.7 370.2,660.6 373.8,654.2" fill="#000"/>
<polygon points="435.1,693.2 423.3,690.7 426.9,684.3" fill="#000"/>
<line x1="451.4" y1="685" x2="568.5" y2="579.2" stroke="#000" stroke-width="1.6"/>
<polygon points="444.6,691.2 455.6,686.2 450.6,680.7" fill="#000"/>
<polygon points="575.3,573 569.3,583.5 564.3,578" fill="#000"/>
<text x="311.5" y="625.4" font-size="17" textLength="41.5" lengthAdjust="spacingAndGlyphs" fill="#111">6.2cm</text>
<text x="362" y="691.5" font-size="17" textLength="42.1" lengthAdjust="spacingAndGlyphs" fill="#111">7.2cm</text>
<text x="518.3" y="646.4" font-size="17" textLength="49" lengthAdjust="spacingAndGlyphs" fill="#111">19.5cm</text>
<line x1="645.8" y1="602.3" x2="645.8" y2="630.1" stroke="#000" stroke-width="1.6"/>
<polygon points="645.8,593.1 642.1,604.6 649.5,604.6" fill="#000"/>
<polygon points="645.8,639.3 642.1,627.8 649.5,627.8" fill="#000"/>
<line x1="659" y1="651.5" x2="717.4" y2="684.3" stroke="#000" stroke-width="1.6"/>
<polygon points="651,647 659.2,655.9 662.8,649.4" fill="#000"/>
<polygon points="725.4,688.8 713.6,686.4 717.2,679.9" fill="#000"/>
<line x1="746.9" y1="685.3" x2="886.5" y2="575.9" stroke="#000" stroke-width="1.6"/>
<polygon points="739.7,691 751,686.8 746.5,681" fill="#000"/>
<polygon points="893.7,570.2 886.9,580.2 882.4,574.4" fill="#000"/>
<text x="597.5" y="621.4" font-size="17" textLength="41.7" lengthAdjust="spacingAndGlyphs" fill="#111">4.3cm</text>
<text x="648.4" y="686.3" font-size="17" textLength="41.8" lengthAdjust="spacingAndGlyphs" fill="#111">7.4cm</text>
<text x="815.2" y="651.1" font-size="17" textLength="49.9" lengthAdjust="spacingAndGlyphs" fill="#111">20.3cm</text>
<line x1="949.5" y1="594.8" x2="949.5" y2="632.3" stroke="#000" stroke-width="1.6"/>
<polygon points="949.5,585.6 945.8,597.1 953.2,597.1" fill="#000"/>
<polygon points="949.5,641.5 945.8,630 953.2,630" fill="#000"/>
<line x1="958.3" y1="652" x2="1013.3" y2="687.1" stroke="#000" stroke-width="1.6"/>
<polygon points="950.6,647 958.3,656.3 962.3,650.1" fill="#000"/>
<polygon points="1021,692.1 1009.3,689 1013.3,682.8" fill="#000"/>
<line x1="1046.3" y1="685.5" x2="1210.9" y2="575.7" stroke="#000" stroke-width="1.6"/>
<polygon points="1038.6,690.6 1050.2,687.3 1046.1,681.1" fill="#000"/>
<polygon points="1218.6,570.6 1211.1,580.1 1207,573.9" fill="#000"/>
<text x="903.3" y="619.4" font-size="17" textLength="41.8" lengthAdjust="spacingAndGlyphs" fill="#111">4.7cm</text>
<text x="948.4" y="691.8" font-size="17" textLength="41.8" lengthAdjust="spacingAndGlyphs" fill="#111">7.4cm</text>
<text x="1126.6" y="654.4" font-size="17" textLength="50.6" lengthAdjust="spacingAndGlyphs" fill="#111">20.3cm</text>
<line x1="1422.4" y1="489.8" x2="1485.8" y2="510.3" stroke="#000" stroke-width="1.6"/>
<polygon points="1413.6,487 1423.4,494 1425.7,487" fill="#000"/>
<polygon points="1494.6,513.1 1482.5,513.1 1484.8,506.1" fill="#000"/>
<line x1="1492" y1="532.5" x2="1339.7" y2="697.3" stroke="#000" stroke-width="1.6"/>
<polygon points="1498.2,525.7 1487.7,531.6 1493.1,536.7" fill="#000"/>
<polygon points="1333.5,704.1 1338.6,693.1 1344,698.2" fill="#000"/>
<text x="1439.7" y="495.1" font-size="17" textLength="41.4" lengthAdjust="spacingAndGlyphs" fill="#111">6.1cm</text>
<text x="1426.2" y="630.3" font-size="17" textLength="48.6" lengthAdjust="spacingAndGlyphs" fill="#111">18.2cm</text>
<text transform="translate(139.2,283.2) scale(1.105,1)" x="0" y="0" font-size="29.8" text-anchor="middle" fill="#000" stroke="#000" stroke-width="0.3">Mini square</text>
<text transform="translate(139.2,320) scale(1.105,1)" x="0" y="0" font-size="29.8" text-anchor="middle" fill="#000" stroke="#000" stroke-width="0.3">cover</text>
<text transform="translate(457.5,283.2) scale(1.105,1)" x="0" y="0" font-size="29.8" text-anchor="middle" fill="#000" stroke="#000" stroke-width="0.3">Flat cover</text>
<text transform="translate(797.5,283.2) scale(1.105,1)" x="0" y="0" font-size="29.8" text-anchor="middle" fill="#000" stroke="#000" stroke-width="0.3">Heart cover</text>
<text transform="translate(1089.2,283.2) scale(1.105,1)" x="0" y="0" font-size="29.8" text-anchor="middle" fill="#000" stroke="#000" stroke-width="0.3">Round cover</text>
<text transform="translate(1375.2,283.2) scale(1.105,1)" x="0" y="0" font-size="29.8" text-anchor="middle" fill="#000" stroke="#000" stroke-width="0.3">Serving fork</text>
<text transform="translate(139.2,784) scale(1.105,1)" x="0" y="0" font-size="29.8" text-anchor="middle" fill="#000" stroke="#000" stroke-width="0.3">Mini square</text>
<text transform="translate(138.8,821.2) scale(1.105,1)" x="0" y="0" font-size="29.8" text-anchor="middle" fill="#000" stroke="#000" stroke-width="0.3">frame</text>
<text transform="translate(451.8,784) scale(1.105,1)" x="0" y="0" font-size="29.8" text-anchor="middle" fill="#000" stroke="#000" stroke-width="0.3">Big square</text>
<text transform="translate(451.5,821.2) scale(1.105,1)" x="0" y="0" font-size="29.8" text-anchor="middle" fill="#000" stroke="#000" stroke-width="0.3">frame</text>
<text transform="translate(798,784) scale(1.105,1)" x="0" y="0" font-size="29.8" text-anchor="middle" fill="#000" stroke="#000" stroke-width="0.3">Triangle base</text>
<text transform="translate(1089.2,784) scale(1.105,1)" x="0" y="0" font-size="29.8" text-anchor="middle" fill="#000" stroke="#000" stroke-width="0.3">Round base</text>
<text transform="translate(1375,784) scale(1.105,1)" x="0" y="0" font-size="29.8" text-anchor="middle" fill="#000" stroke="#000" stroke-width="0.3">Spatula</text>
</g>
</svg>
</body></html>
